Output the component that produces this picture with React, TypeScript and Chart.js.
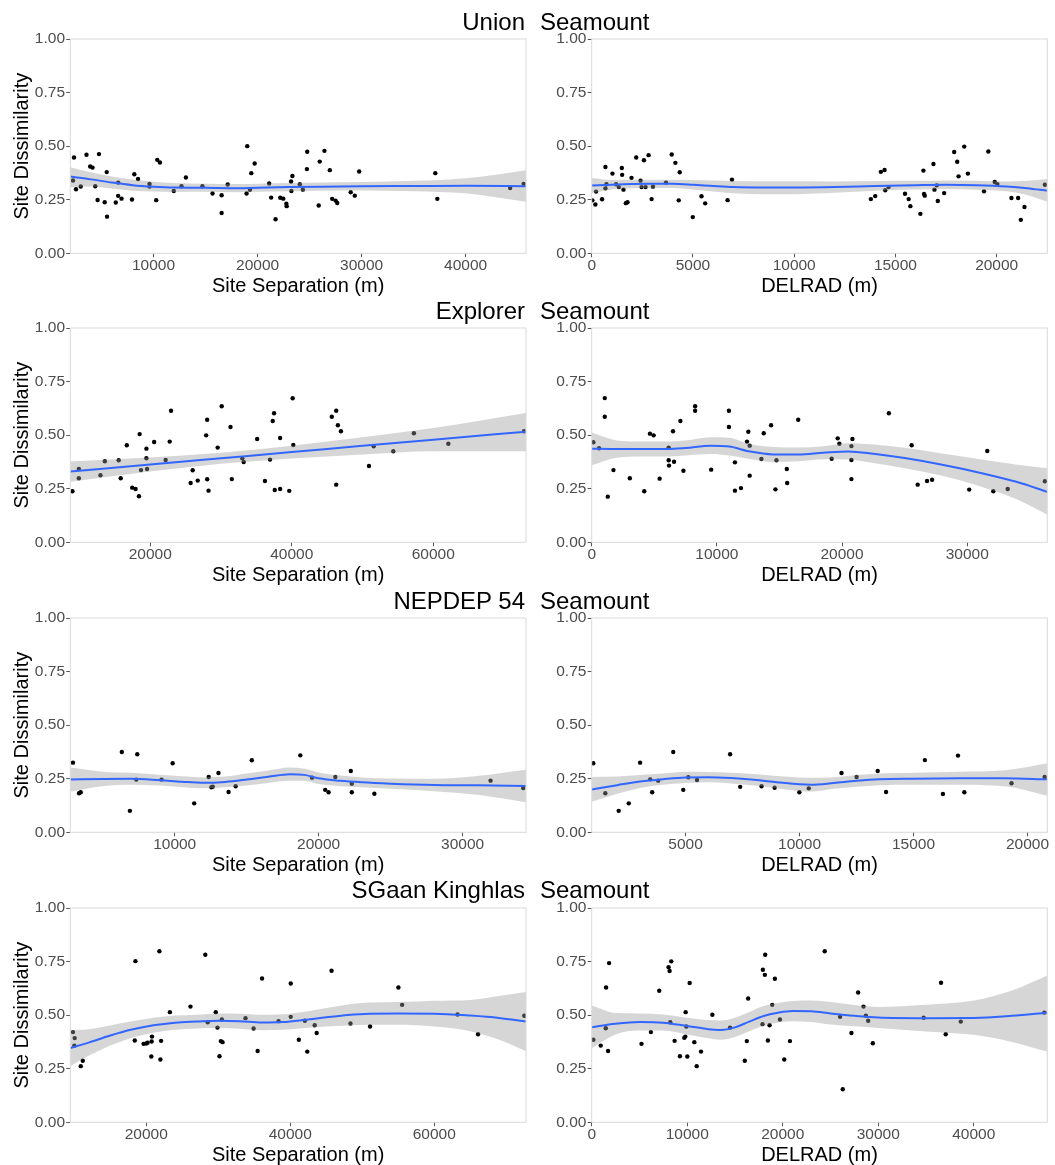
import React, { useEffect, useRef } from 'react';
import { Chart, registerables } from 'chart.js';

Chart.register(...registerables);

const FONT = "'Liberation Sans', Arial, Helvetica, sans-serif";

// ---------- Row titles ----------
const rowTitles = ['Union', 'Explorer', 'NEPDEP 54', 'SGaan Kinghlas'];
const rowSuffix = 'Seamount';
const sepTitle = 'Site Separation (m)';
const delTitle = 'DELRAD (m)';
const yTitle = 'Site Dissimilarity';

// ---------- Y axis ----------
const yTicks = [0, 0.25, 0.5, 0.75, 1];
const yTickLabels = ['0.00', '0.25', '0.50', '0.75', '1.00'];

// ---------- Union Seamount : Site Separation ----------
const unionSepRange = [2000, 45800];
const unionSepTicks = [10000, 20000, 30000, 40000];
const unionSepX = [2260, 2356, 2550, 3004, 3555, 3911, 4138, 4397, 4624, 4754, 5305, 5499, 5531, 6373, 6600, 6600, 6924, 7929, 8155, 8512, 9613, 9613, 10261, 10358, 10617, 11945, 12690, 13111, 14698, 15670, 16545, 16545, 17128, 18942, 19007, 19266, 19396, 19720, 21113, 21307, 21728, 22182, 22474, 22765, 22798, 23219, 23251, 23348, 24061, 24352, 24741, 24773, 25875, 25972, 26426, 26944, 27171, 27495, 27657, 28953, 29342, 29763, 37084, 37278, 44275, 45571];
const unionSepY = [0.340, 0.447, 0.299, 0.312, 0.460, 0.405, 0.400, 0.313, 0.249, 0.463, 0.238, 0.379, 0.171, 0.237, 0.330, 0.268, 0.255, 0.251, 0.369, 0.347, 0.324, 0.312, 0.248, 0.436, 0.424, 0.291, 0.313, 0.354, 0.313, 0.279, 0.271, 0.188, 0.321, 0.279, 0.500, 0.296, 0.374, 0.419, 0.326, 0.260, 0.159, 0.259, 0.255, 0.231, 0.220, 0.335, 0.291, 0.361, 0.322, 0.297, 0.393, 0.474, 0.223, 0.428, 0.478, 0.388, 0.254, 0.246, 0.235, 0.285, 0.269, 0.382, 0.374, 0.254, 0.305, 0.324];
const unionSepFitX = [2000, 4000, 6000, 8000, 10000, 12000, 15000, 18000, 20000, 23000, 26000, 30000, 35000, 40000, 45800];
const unionSepFit = [0.358, 0.345, 0.330, 0.318, 0.311, 0.307, 0.306, 0.304, 0.306, 0.309, 0.311, 0.313, 0.314, 0.315, 0.313];
const unionSepLo = [0.308, 0.312, 0.302, 0.292, 0.288, 0.286, 0.287, 0.285, 0.287, 0.290, 0.292, 0.293, 0.290, 0.280, 0.240];
const unionSepHi = [0.402, 0.378, 0.358, 0.344, 0.334, 0.328, 0.325, 0.323, 0.325, 0.328, 0.330, 0.333, 0.338, 0.350, 0.388];

// ---------- Union Seamount : DELRAD ----------
const unionDelRange = [0, 22500];
const unionDelTicks = [0, 5000, 10000, 15000, 20000];
const unionDelX = [33, 182, 215, 512, 678, 678, 727, 1025, 1207, 1339, 1488, 1504, 1570, 1686, 1769, 1967, 2198, 2413, 2463, 2579, 2661, 2810, 2959, 3025, 3670, 3951, 4133, 4298, 4347, 4992, 5422, 5604, 6711, 6926, 13786, 14001, 14282, 14464, 14497, 14662, 15472, 15654, 15737, 16233, 16381, 16414, 16447, 16877, 16927, 17042, 17092, 17406, 17902, 18051, 18117, 18398, 18580, 19374, 19589, 19903, 20035, 20729, 21060, 21192, 21374, 22382];
const unionDelY = [0.247, 0.228, 0.288, 0.252, 0.403, 0.303, 0.322, 0.372, 0.322, 0.309, 0.398, 0.366, 0.297, 0.234, 0.238, 0.352, 0.447, 0.339, 0.309, 0.434, 0.309, 0.458, 0.253, 0.311, 0.330, 0.461, 0.422, 0.247, 0.378, 0.169, 0.266, 0.233, 0.248, 0.344, 0.253, 0.267, 0.380, 0.389, 0.294, 0.309, 0.278, 0.253, 0.220, 0.184, 0.386, 0.277, 0.269, 0.417, 0.297, 0.317, 0.244, 0.281, 0.473, 0.427, 0.359, 0.498, 0.372, 0.289, 0.475, 0.333, 0.323, 0.258, 0.258, 0.156, 0.216, 0.320];
const unionDelFitX = [0, 1000, 2000, 3000, 4000, 5000, 6000, 7000, 8500, 10000, 12000, 14000, 16000, 17500, 19000, 20500, 21500, 22500];
const unionDelFit = [0.316, 0.320, 0.323, 0.324, 0.324, 0.320, 0.314, 0.309, 0.307, 0.307, 0.309, 0.314, 0.318, 0.320, 0.318, 0.312, 0.304, 0.292];
const unionDelLo = [0.281, 0.298, 0.303, 0.305, 0.305, 0.298, 0.288, 0.280, 0.276, 0.276, 0.282, 0.292, 0.298, 0.300, 0.297, 0.289, 0.272, 0.241];
const unionDelHi = [0.351, 0.342, 0.343, 0.343, 0.343, 0.342, 0.340, 0.337, 0.336, 0.336, 0.335, 0.337, 0.338, 0.340, 0.339, 0.335, 0.338, 0.347];

// ---------- Explorer Seamount : Site Separation ----------
const explorerSepRange = [8700, 73100];
const explorerSepTicks = [20000, 40000, 60000];
const explorerSepX = [9000, 9907, 9907, 12962, 13582, 15539, 15826, 16685, 17449, 17926, 18403, 18499, 18690, 19453, 19453, 19549, 20551, 22174, 22747, 22938, 25706, 25993, 26709, 27902, 28045, 28045, 28236, 29525, 30097, 31338, 31529, 33009, 33200, 35109, 36207, 36923, 37305, 37496, 37591, 38355, 38355, 39644, 40121, 40217, 45658, 46279, 46279, 46517, 46947, 50908, 51577, 54345, 57257, 62125, 72817];
const explorerSepY = [0.238, 0.342, 0.299, 0.313, 0.378, 0.383, 0.299, 0.453, 0.255, 0.249, 0.215, 0.505, 0.337, 0.437, 0.392, 0.342, 0.468, 0.384, 0.470, 0.614, 0.277, 0.336, 0.288, 0.499, 0.572, 0.294, 0.241, 0.442, 0.635, 0.538, 0.295, 0.392, 0.375, 0.482, 0.286, 0.386, 0.566, 0.602, 0.244, 0.249, 0.487, 0.240, 0.672, 0.454, 0.586, 0.614, 0.269, 0.546, 0.518, 0.356, 0.448, 0.425, 0.509, 0.460, 0.518];
const explorerSepFitX = [8700, 20000, 30000, 40000, 50000, 60000, 73100];
const explorerSepFit = [0.330, 0.363, 0.392, 0.421, 0.450, 0.479, 0.516];
const explorerSepLo = [0.283, 0.330, 0.366, 0.391, 0.410, 0.425, 0.425];
const explorerSepHi = [0.377, 0.396, 0.418, 0.451, 0.490, 0.533, 0.603];

// ---------- Explorer Seamount : DELRAD ----------
const explorerDelRange = [0, 36400];
const explorerDelTicks = [0, 10000, 20000, 30000];
const explorerDelX = [134, 588, 1043, 1043, 1283, 1738, 3048, 4198, 4653, 4947, 5428, 6150, 6150, 6177, 6498, 6578, 7086, 7327, 8263, 8263, 9546, 10964, 10964, 11445, 11445, 11926, 12408, 12515, 12622, 12622, 13558, 13745, 14333, 14680, 14760, 15589, 15616, 16498, 19172, 19653, 19787, 20750, 20750, 20750, 20830, 23745, 25563, 26045, 26793, 27194, 30162, 31606, 32088, 33238, 36206];
const explorerDelY = [0.467, 0.439, 0.673, 0.586, 0.213, 0.337, 0.299, 0.238, 0.507, 0.499, 0.297, 0.442, 0.383, 0.358, 0.518, 0.376, 0.566, 0.334, 0.635, 0.614, 0.339, 0.614, 0.538, 0.373, 0.241, 0.253, 0.470, 0.516, 0.451, 0.311, 0.389, 0.509, 0.546, 0.247, 0.383, 0.342, 0.277, 0.572, 0.390, 0.485, 0.460, 0.449, 0.384, 0.295, 0.482, 0.602, 0.453, 0.269, 0.286, 0.292, 0.246, 0.426, 0.238, 0.249, 0.285];
const explorerDelFitX = [0, 2000, 4000, 6000, 7500, 9500, 11000, 12500, 14500, 16500, 18500, 20500, 22500, 25000, 28000, 31000, 34000, 36400];
const explorerDelFit = [0.437, 0.435, 0.435, 0.435, 0.440, 0.451, 0.447, 0.425, 0.410, 0.410, 0.418, 0.424, 0.413, 0.393, 0.362, 0.325, 0.281, 0.235];
const explorerDelLo = [0.360, 0.395, 0.400, 0.400, 0.405, 0.412, 0.405, 0.390, 0.375, 0.378, 0.388, 0.386, 0.370, 0.345, 0.310, 0.262, 0.200, 0.129];
const explorerDelHi = [0.512, 0.475, 0.470, 0.470, 0.475, 0.490, 0.488, 0.460, 0.445, 0.442, 0.448, 0.462, 0.456, 0.441, 0.414, 0.388, 0.362, 0.345];

// ---------- NEPDEP 54 Seamount : Site Separation ----------
const nepSepRange = [2750, 34400];
const nepSepTicks = [10000, 20000, 30000];
const nepSepX = [2936, 3357, 3474, 6327, 6889, 7333, 7403, 9087, 9859, 11356, 12361, 12549, 12642, 13040, 13741, 14233, 15355, 18723, 19542, 20454, 20688, 21156, 22232, 22302, 22302, 23869, 31938, 34207];
const nepSepY = [0.325, 0.182, 0.187, 0.375, 0.100, 0.246, 0.364, 0.246, 0.322, 0.135, 0.258, 0.210, 0.213, 0.277, 0.188, 0.215, 0.336, 0.359, 0.255, 0.198, 0.187, 0.258, 0.286, 0.227, 0.187, 0.180, 0.241, 0.207];
const nepSepFitX = [2750, 5000, 7000, 9000, 10500, 12000, 13500, 15000, 16500, 18000, 19000, 20000, 21500, 23000, 25000, 28000, 31000, 34400];
const nepSepFit = [0.246, 0.249, 0.250, 0.243, 0.236, 0.231, 0.235, 0.246, 0.259, 0.271, 0.268, 0.252, 0.240, 0.233, 0.227, 0.221, 0.219, 0.216];
const nepSepLo = [0.190, 0.215, 0.222, 0.218, 0.210, 0.205, 0.210, 0.218, 0.230, 0.240, 0.240, 0.225, 0.215, 0.210, 0.203, 0.192, 0.175, 0.140];
const nepSepHi = [0.302, 0.283, 0.278, 0.268, 0.262, 0.257, 0.260, 0.274, 0.288, 0.302, 0.296, 0.279, 0.265, 0.256, 0.251, 0.250, 0.263, 0.292];

// ---------- NEPDEP 54 Seamount : DELRAD ----------
const nepDelRange = [880, 20870];
const nepDelTicks = [5000, 10000, 15000, 20000];
const nepDelX = [949, 1478, 2065, 2505, 3004, 3445, 3533, 3797, 4458, 4898, 5118, 5500, 6953, 7394, 8333, 8906, 9992, 10403, 11842, 12503, 13428, 13795, 15498, 16290, 16951, 17230, 19300, 20754];
const nepDelY = [0.322, 0.182, 0.100, 0.135, 0.325, 0.247, 0.187, 0.241, 0.375, 0.198, 0.257, 0.244, 0.364, 0.212, 0.215, 0.208, 0.187, 0.205, 0.277, 0.258, 0.286, 0.188, 0.337, 0.179, 0.358, 0.187, 0.229, 0.258];
const nepDelFitX = [880, 2000, 3000, 4000, 5000, 6000, 7000, 8000, 9000, 10000, 10500, 11500, 12500, 13500, 15000, 17000, 19000, 20870];
const nepDelFit = [0.200, 0.220, 0.237, 0.248, 0.256, 0.257, 0.253, 0.245, 0.234, 0.224, 0.222, 0.230, 0.240, 0.247, 0.250, 0.252, 0.252, 0.247];
const nepDelLo = [0.142, 0.180, 0.207, 0.222, 0.230, 0.233, 0.228, 0.218, 0.205, 0.192, 0.190, 0.203, 0.213, 0.220, 0.222, 0.222, 0.215, 0.171];
const nepDelHi = [0.258, 0.260, 0.267, 0.274, 0.282, 0.281, 0.278, 0.272, 0.263, 0.256, 0.254, 0.257, 0.267, 0.274, 0.278, 0.282, 0.289, 0.322];

// ---------- SGaan Kinghlas Seamount : Site Separation ----------
const sgSepRange = [9450, 72750];
const sgSepTicks = [20000, 40000, 60000];
const sgSepX = [9824, 10058, 10011, 10902, 11183, 18405, 18499, 19624, 20000, 20187, 20703, 20750, 20797, 21828, 21969, 22063, 23282, 26142, 28205, 28533, 29658, 29893, 30175, 30362, 30503, 30597, 33786, 34911, 35473, 36083, 38380, 40068, 40068, 41193, 42037, 42365, 43397, 43678, 45741, 48367, 51087, 55025, 55541, 63231, 66091, 72515];
const sgSepY = [0.421, 0.393, 0.357, 0.262, 0.287, 0.382, 0.752, 0.366, 0.368, 0.371, 0.307, 0.377, 0.400, 0.798, 0.293, 0.380, 0.514, 0.540, 0.782, 0.467, 0.514, 0.442, 0.308, 0.379, 0.480, 0.374, 0.486, 0.438, 0.333, 0.671, 0.472, 0.648, 0.492, 0.385, 0.474, 0.330, 0.453, 0.417, 0.707, 0.461, 0.447, 0.629, 0.548, 0.503, 0.411, 0.497];
const sgSepFitX = [9450, 12000, 15000, 18000, 21000, 24000, 27000, 30000, 33000, 36000, 39000, 42000, 45000, 48000, 51000, 55000, 60000, 65000, 69000, 72750];
const sgSepFit = [0.346, 0.372, 0.405, 0.433, 0.453, 0.465, 0.470, 0.474, 0.472, 0.466, 0.468, 0.478, 0.490, 0.501, 0.507, 0.508, 0.507, 0.498, 0.487, 0.470];
const sgSepLo = [0.262, 0.310, 0.358, 0.395, 0.418, 0.432, 0.438, 0.440, 0.437, 0.430, 0.432, 0.440, 0.447, 0.452, 0.455, 0.455, 0.447, 0.425, 0.385, 0.332];
const sgSepHi = [0.430, 0.434, 0.452, 0.471, 0.488, 0.498, 0.502, 0.508, 0.507, 0.502, 0.504, 0.516, 0.533, 0.550, 0.559, 0.561, 0.567, 0.571, 0.589, 0.608];

// ---------- SGaan Kinghlas Seamount : DELRAD ----------
const sgDelRange = [0, 47700];
const sgDelTicks = [0, 10000, 20000, 30000, 40000];
const sgDelX = [175, 945, 1505, 1470, 1715, 1820, 5215, 6195, 7070, 8050, 8155, 8225, 8330, 8680, 9240, 9695, 9800, 9835, 9905, 10010, 10255, 10745, 10990, 11445, 12635, 14490, 16030, 16240, 16380, 17885, 17920, 18130, 18165, 18445, 18620, 18900, 19180, 19705, 20160, 20755, 24395, 26005, 26285, 27195, 27895, 28455, 28700, 28945, 29435, 34755, 36575, 37065, 38640, 47390];
const sgDelY = [0.385, 0.358, 0.629, 0.439, 0.333, 0.743, 0.366, 0.421, 0.614, 0.724, 0.706, 0.467, 0.751, 0.380, 0.308, 0.394, 0.400, 0.514, 0.447, 0.307, 0.650, 0.374, 0.262, 0.330, 0.502, 0.442, 0.287, 0.379, 0.578, 0.458, 0.712, 0.688, 0.782, 0.382, 0.453, 0.548, 0.670, 0.480, 0.293, 0.379, 0.798, 0.492, 0.154, 0.417, 0.606, 0.540, 0.497, 0.474, 0.369, 0.488, 0.651, 0.411, 0.470, 0.512];
const sgDelFitX = [0, 2500, 5000, 7500, 10000, 12000, 13500, 15000, 16500, 18000, 19500, 21000, 23000, 25000, 27500, 30000, 35000, 40000, 44000, 47700];
const sgDelFit = [0.444, 0.460, 0.468, 0.465, 0.449, 0.436, 0.431, 0.443, 0.470, 0.496, 0.511, 0.519, 0.518, 0.508, 0.497, 0.489, 0.486, 0.487, 0.497, 0.511];
const sgDelLo = [0.346, 0.410, 0.428, 0.428, 0.410, 0.393, 0.385, 0.398, 0.425, 0.450, 0.466, 0.472, 0.468, 0.456, 0.448, 0.440, 0.424, 0.408, 0.375, 0.330];
const sgDelHi = [0.545, 0.510, 0.508, 0.503, 0.488, 0.477, 0.475, 0.488, 0.515, 0.543, 0.557, 0.566, 0.568, 0.561, 0.547, 0.538, 0.548, 0.568, 0.615, 0.685];

// ---------- Panel list (built from the arrays above) ----------
const panels = [
  { row: 0, col: 0, xs: unionSepX, ys: unionSepY, fx: unionSepFitX, fy: unionSepFit, lo: unionSepLo, hi: unionSepHi, range: unionSepRange, ticks: unionSepTicks, xTitle: sepTitle },
  { row: 0, col: 1, xs: unionDelX, ys: unionDelY, fx: unionDelFitX, fy: unionDelFit, lo: unionDelLo, hi: unionDelHi, range: unionDelRange, ticks: unionDelTicks, xTitle: delTitle },
  { row: 1, col: 0, xs: explorerSepX, ys: explorerSepY, fx: explorerSepFitX, fy: explorerSepFit, lo: explorerSepLo, hi: explorerSepHi, range: explorerSepRange, ticks: explorerSepTicks, xTitle: sepTitle },
  { row: 1, col: 1, xs: explorerDelX, ys: explorerDelY, fx: explorerDelFitX, fy: explorerDelFit, lo: explorerDelLo, hi: explorerDelHi, range: explorerDelRange, ticks: explorerDelTicks, xTitle: delTitle },
  { row: 2, col: 0, xs: nepSepX, ys: nepSepY, fx: nepSepFitX, fy: nepSepFit, lo: nepSepLo, hi: nepSepHi, range: nepSepRange, ticks: nepSepTicks, xTitle: sepTitle },
  { row: 2, col: 1, xs: nepDelX, ys: nepDelY, fx: nepDelFitX, fy: nepDelFit, lo: nepDelLo, hi: nepDelHi, range: nepDelRange, ticks: nepDelTicks, xTitle: delTitle },
  { row: 3, col: 0, xs: sgSepX, ys: sgSepY, fx: sgSepFitX, fy: sgSepFit, lo: sgSepLo, hi: sgSepHi, range: sgSepRange, ticks: sgSepTicks, xTitle: sepTitle },
  { row: 3, col: 1, xs: sgDelX, ys: sgDelY, fx: sgDelFitX, fy: sgDelFit, lo: sgDelLo, hi: sgDelHi, range: sgDelRange, ticks: sgDelTicks, xTitle: delTitle },
];

// ---------- Layout ----------
const CHART_TOPS = [39, 328.3, 618, 907.7];
const PLOT_H = 214.3;
const PAD_TOP = 15;
const X_AXIS_H = 50.7;
const CANVAS_H = PAD_TOP + PLOT_H + X_AXIS_H;
const COLS = [
  { left: 0, width: 535, yW: 70.3, padR: 9 },
  { left: 535, width: 517, yW: 56.7, padR: 4.7 },
];

const framePlugin = {
  id: 'panelFrame',
  afterDatasetsDraw(chart: any) {
    const { ctx, chartArea: a } = chart;
    ctx.save();
    ctx.strokeStyle = '#d9d9d9';
    ctx.lineWidth = 1;
    ctx.strokeRect(a.left, a.top, a.right - a.left, a.bottom - a.top);
    ctx.restore();
  },
};

function Panel({ p }: { p: any }) {
  const ref = useRef<HTMLCanvasElement>(null);
  const col = COLS[p.col];
  const top = CHART_TOPS[p.row] - PAD_TOP;

  useEffect(() => {
    const pts = p.xs.map((x: number, i: number) => ({ x, y: p.ys[i] }));
    const fit = p.fx.map((x: number, i: number) => ({ x, y: p.fy[i] }));
    const lo = p.fx.map((x: number, i: number) => ({ x, y: p.lo[i] }));
    const hi = p.fx.map((x: number, i: number) => ({ x, y: p.hi[i] }));
    const chart = new Chart(ref.current as HTMLCanvasElement, {
      type: 'scatter',
      data: {
        datasets: [
          {
            type: 'scatter',
            data: pts,
            pointRadius: 2.2,
            pointBackgroundColor: '#000000',
            pointBorderWidth: 0,
            pointBorderColor: '#000000',
            order: 3,
          } as any,
          {
            type: 'line',
            data: lo,
            showLine: true,
            borderColor: 'rgba(0,0,0,0)',
            borderWidth: 1,
            pointRadius: 0,
            fill: false,
            cubicInterpolationMode: 'monotone',
            order: 2,
          } as any,
          {
            type: 'line',
            data: hi,
            showLine: true,
            borderColor: 'rgba(0,0,0,0)',
            borderWidth: 1,
            pointRadius: 0,
            fill: '-1',
            backgroundColor: 'rgba(153,153,153,0.4)',
            cubicInterpolationMode: 'monotone',
            order: 1,
          } as any,
          {
            type: 'line',
            data: fit,
            showLine: true,
            borderColor: '#3366FF',
            borderWidth: 2,
            pointRadius: 0,
            fill: false,
            cubicInterpolationMode: 'monotone',
            order: 0,
          } as any,
        ],
      },
      options: {
        animation: false,
        responsive: false,
        maintainAspectRatio: false,
        events: [],
        layout: { padding: { left: 0, right: col.padR, top: PAD_TOP, bottom: 0 } },
        plugins: {
          legend: { display: false },
          tooltip: { enabled: false },
          title: { display: false },
        },
        scales: {
          x: {
            type: 'linear',
            position: 'bottom',
            min: p.range[0],
            max: p.range[1],
            afterBuildTicks: (s: any) => {
              s.ticks = p.ticks.map((v: number) => ({ value: v }));
            },
            afterFit: (s: any) => {
              s.height = X_AXIS_H;
              s.paddingLeft = 0;
              s.paddingRight = 0;
            },
            ticks: {
              autoSkip: false,
              maxRotation: 0,
              minRotation: 0,
              padding: -0.5,
              color: '#4d4d4d',
              font: { family: FONT, size: 15.5 },
              callback: (v: any) => String(v),
            },
            grid: {
              display: true,
              drawOnChartArea: false,
              drawTicks: true,
              tickLength: 4,
              tickColor: '#555555',
              color: '#555555',
            },
            border: { display: false },
            title: {
              display: true,
              text: p.xTitle,
              color: '#000000',
              font: { family: FONT, size: 20 },
              padding: { top: 0, bottom: 5.2 },
            },
          } as any,
          y: {
            type: 'linear',
            position: 'left',
            min: 0,
            max: 1,
            afterBuildTicks: (s: any) => {
              s.ticks = yTicks.map((v) => ({ value: v }));
            },
            afterFit: (s: any) => {
              s.width = col.yW;
              s.paddingTop = 0;
              s.paddingBottom = 0;
            },
            ticks: {
              autoSkip: false,
              padding: 1.3,
              color: '#4d4d4d',
              font: { family: FONT, size: 15.5 },
              callback: (_v: any, i: number) => yTickLabels[i],
            },
            grid: {
              display: true,
              drawOnChartArea: false,
              drawTicks: true,
              tickLength: 4,
              tickColor: '#555555',
              color: '#555555',
            },
            border: { display: false },
            title: {
              display: p.col === 0,
              text: yTitle,
              color: '#000000',
              font: { family: FONT, size: 20 },
              padding: { top: 10, bottom: 0 },
            },
          } as any,
        },
      },
      plugins: [framePlugin],
    } as any);
    return () => chart.destroy();
  }, []);

  return (
    <canvas
      ref={ref}
      width={col.width}
      height={CANVAS_H}
      style={{ position: 'absolute', left: col.left, top, width: col.width, height: CANVAS_H }}
    />
  );
}

export default function App() {
  const titleStyle: React.CSSProperties = {
    position: 'absolute',
    fontFamily: FONT,
    fontSize: 24,
    lineHeight: '28px',
    color: '#000000',
    whiteSpace: 'nowrap',
  };
  return (
    <div
      style={{
        position: 'absolute',
        left: 0,
        top: 0,
        width: 1055,
        height: 1165,
        overflow: 'hidden',
        background: '#ffffff',
      }}
    >
      {panels.map((p, i) => (
        <Panel key={i} p={p} />
      ))}
      {rowTitles.map((t, r) => (
        <React.Fragment key={t}>
          <div style={{ ...titleStyle, left: 0, width: 525, textAlign: 'right', top: CHART_TOPS[r] - 31.3 }}>{t}</div>
          <div style={{ ...titleStyle, left: 540, top: CHART_TOPS[r] - 31.3 }}>{rowSuffix}</div>
        </React.Fragment>
      ))}
    </div>
  );
}
